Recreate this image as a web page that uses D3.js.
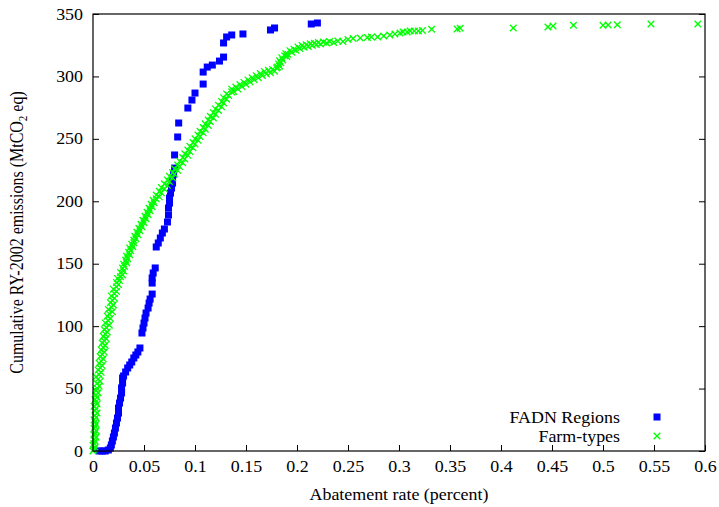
<!DOCTYPE html>
<html>
<head>
<meta charset="utf-8">
<script src="https://cdn.jsdelivr.net/npm/d3@7"></script>
<style>
  body { margin: 0; background: #fff; }
  svg text { font-family: "Liberation Serif", "DejaVu Serif", serif; fill: #000; }
</style>
</head>
<body>
<svg id="chart" width="719" height="507" font-family="Liberation Serif, serif"></svg>
<script>
// Cumulative emissions against abatement rate, two aggregation levels.

// FADN regions: abatement rate (fraction) and cumulative emissions (MtCO2 eq)
const fadnRate = [0.006, 0.009, 0.012, 0.015, 0.017, 0.018, 0.019, 0.020, 0.021, 0.022,
  0.023, 0.024, 0.025, 0.025, 0.026, 0.027, 0.028, 0.028, 0.029, 0.029,
  0.030, 0.032, 0.034, 0.036, 0.038, 0.040, 0.042, 0.044, 0.046, 0.048,
  0.049, 0.050, 0.051, 0.052, 0.054, 0.055, 0.056, 0.058, 0.058, 0.058,
  0.059, 0.061, 0.062, 0.064, 0.066, 0.068, 0.070, 0.073, 0.074, 0.074,
  0.075, 0.075, 0.076, 0.077, 0.078, 0.078, 0.079, 0.080, 0.080, 0.083,
  0.084, 0.093, 0.097, 0.100, 0.108, 0.108, 0.112, 0.117, 0.124, 0.128,
  0.128, 0.131, 0.136, 0.147, 0.174, 0.178, 0.214, 0.220];
const fadnCum = [0.0, 0.0, 0.0, 0.8, 2.4, 4.8, 8.0, 11.2, 14.4, 18.4,
  22.4, 26.4, 30.4, 34.4, 38.4, 42.4, 46.5, 50.5, 54.5, 58.5,
  60.1, 63.3, 66.5, 68.9, 71.3, 74.5, 76.9, 79.3, 82.5, 94.5,
  98.5, 102.5, 106.5, 110.5, 114.5, 118.5, 121.7, 125.7, 134.5, 138.6,
  142.6, 146.6, 163.4, 166.6, 170.6, 174.6, 177.8, 183.4, 189.0, 194.6,
  198.6, 202.6, 206.6, 210.6, 214.6, 218.6, 221.8, 226.6, 237.1, 251.5,
  262.7, 274.7, 281.1, 286.7, 293.9, 303.5, 307.5, 309.1, 312.3, 315.5,
  326.8, 331.6, 333.2, 334.0, 337.2, 338.8, 342.0, 342.8];

// Farm types: abatement rate (fraction) and cumulative emissions (MtCO2 eq)
const farmRate = [
  0.000, 0.001, 0.002, 0.000, 0.001, 0.002, 0.001, 0.003, 0.001, 0.002,
  0.003, 0.001, 0.002, 0.003, 0.002, 0.001, 0.003, 0.002, 0.004, 0.002,
  0.003, 0.001, 0.004, 0.003, 0.002, 0.004, 0.003, 0.005, 0.003, 0.004,
  0.006,
  0.004, 0.007, 0.005, 0.003, 0.006, 0.008, 0.005, 0.007, 0.009, 0.006,
  0.008, 0.010, 0.007, 0.009, 0.011, 0.008, 0.010, 0.012, 0.009, 0.011,
  0.013, 0.010, 0.012, 0.014, 0.011, 0.013, 0.016, 0.012, 0.015, 0.017,
  0.014, 0.016, 0.019, 0.015, 0.018, 0.020, 0.017, 0.019, 0.021, 0.018,
  0.021, 0.023, 0.020, 0.023, 0.025, 0.023,
  0.026, 0.024, 0.027, 0.029, 0.027, 0.030, 0.029, 0.031, 0.030, 0.033,
  0.032, 0.034, 0.033, 0.036, 0.035, 0.037, 0.036, 0.039, 0.038, 0.040,
  0.040, 0.042, 0.041, 0.044, 0.043, 0.046, 0.045, 0.048, 0.047, 0.050,
  0.049, 0.052, 0.051, 0.054, 0.053, 0.056, 0.055, 0.058, 0.057, 0.060,
  0.059, 0.062,
  0.065, 0.062, 0.067, 0.065, 0.070, 0.067, 0.073, 0.070, 0.075, 0.073,
  0.078, 0.075, 0.080, 0.078, 0.083, 0.080, 0.085, 0.083, 0.088, 0.085,
  0.090, 0.088, 0.093, 0.090, 0.095, 0.093, 0.098, 0.095, 0.100, 0.098,
  0.103, 0.100, 0.105, 0.103, 0.108, 0.105, 0.110, 0.108, 0.113, 0.110,
  0.115, 0.113, 0.118, 0.115, 0.120, 0.118, 0.123, 0.120, 0.126, 0.123,
  0.128, 0.126, 0.131, 0.128, 0.133, 0.131, 0.136,
  0.136, 0.138, 0.140, 0.142, 0.144, 0.146, 0.148, 0.150, 0.152, 0.154,
  0.156, 0.158, 0.160, 0.162, 0.164, 0.166, 0.168, 0.170, 0.172, 0.174,
  0.176, 0.178, 0.180, 0.181, 0.183, 0.182, 0.184, 0.183, 0.186, 0.185,
  0.188, 0.190, 0.189, 0.191, 0.193, 0.195, 0.197, 0.199, 0.201, 0.203,
  0.205, 0.207, 0.209, 0.211, 0.213, 0.215, 0.217, 0.219, 0.221, 0.223,
  0.226, 0.229, 0.232,
  0.236, 0.240, 0.245, 0.250, 0.255, 0.262, 0.269, 0.273, 0.279, 0.285,
  0.291, 0.296, 0.301, 0.304, 0.308, 0.311, 0.315, 0.319, 0.323, 0.332,
  0.357, 0.360, 0.412, 0.446, 0.451, 0.471, 0.500, 0.505, 0.514, 0.547,
  0.593];
const farmCum = [
  0.0, 1.5, 3.0, 4.5, 6.0, 7.8, 9.5, 11.0, 12.8, 14.5,
  16.2, 18.0, 19.8, 21.5, 23.2, 25.0, 26.8, 28.6, 30.4, 32.2,
  34.0, 35.8, 37.6, 39.4, 41.2, 43.0, 44.8, 46.6, 48.4, 50.2,
  52.0,
  54.0, 55.8, 57.6, 59.4, 61.2, 63.0, 64.8, 66.6, 68.4, 70.2,
  72.0, 73.8, 75.6, 77.4, 79.2, 81.0, 82.8, 84.6, 86.4, 88.2,
  90.0, 91.8, 93.6, 95.4, 97.2, 99.0, 100.8, 102.6, 104.4, 106.2,
  108.0, 109.8, 111.6, 113.4, 115.2, 117.0, 118.8, 120.6, 122.4, 124.2,
  126.0, 127.8, 129.6, 131.4, 133.2, 135.0,
  136.5, 138.2, 139.5, 141.0, 143.0, 144.2, 146.5, 147.8, 149.6, 150.8,
  152.8, 154.0, 156.0, 157.2, 159.2, 160.4, 162.5, 163.6, 165.6, 166.8,
  168.8, 170.0, 172.0, 173.2, 175.2, 176.4, 178.4, 179.6, 181.6, 182.8,
  184.8, 186.0, 188.0, 189.2, 191.2, 192.4, 194.4, 195.6, 197.6, 198.8,
  200.8, 202.0,
  203.6, 205.0, 206.8, 208.0, 209.8, 211.0, 212.8, 214.0, 215.8, 217.0,
  218.8, 220.0, 221.8, 223.0, 224.8, 226.0, 227.8, 229.0, 230.8, 232.0,
  233.8, 235.0, 236.8, 238.0, 239.8, 241.0, 242.8, 244.0, 245.8, 247.0,
  248.8, 250.0, 251.8, 253.0, 254.8, 256.0, 257.8, 259.0, 260.8, 262.0,
  263.8, 265.0, 266.8, 268.0, 269.8, 271.0, 272.8, 274.0, 275.8, 277.0,
  278.8, 280.0, 281.8, 283.0, 284.8, 286.0, 287.6,
  289.8, 288.0, 291.5, 290.0, 293.5, 292.0, 295.2, 293.8, 297.2, 295.6,
  298.9, 297.4, 300.6, 299.0, 302.3, 300.8, 304.0, 302.0, 304.9, 302.9,
  305.6, 304.2, 306.8, 307.5, 308.2, 310.0, 311.0, 312.5, 313.2, 315.0,
  316.5, 316.0, 318.2, 317.8, 320.6, 319.4, 321.8, 320.9, 323.5, 322.3,
  324.8, 323.4, 325.3, 324.0, 326.2, 324.9, 326.6, 325.5, 327.2, 326.0,
  327.6, 326.8, 328.0,
  327.2, 328.4, 328.0, 329.6, 330.4, 330.8, 331.2, 331.6, 331.6, 332.4,
  333.2, 334.0, 334.8, 335.6, 335.6, 336.4, 336.4, 336.4, 336.8, 337.8,
  338.0, 338.6, 338.8, 339.6, 340.4, 341.0, 341.0, 341.2, 341.4, 342.0,
  342.0];

const xTicks = [0, 0.05, 0.1, 0.15, 0.2, 0.25, 0.3, 0.35, 0.4, 0.45, 0.5, 0.55, 0.6];
const yTicks = [0, 50, 100, 150, 200, 250, 300, 350];
const seriesNames = ["FADN Regions", "Farm-types"];
const seriesColors = ["#0000ff", "#00ff00"];
const xTitle = "Abatement rate (percent)";

// Layout
const plot = { left: 93, right: 705, top: 14, bottom: 451 };
const stretch = 1.12;     // horizontal glyph widening of all text
const fontPx = 16;
const serif = "Liberation Serif, serif";

const svg = d3.select("#chart");
const x = d3.scaleLinear().domain([0, 0.6]).range([plot.left, plot.right]);
const y = d3.scaleLinear().domain([0, 350]).range([plot.bottom, plot.top]);

// Axes with inward ticks
const xAxis = d3.axisBottom(x).tickValues(xTicks).tickFormat(d => String(d))
  .tickSizeInner(-6).tickSizeOuter(0).tickPadding(10);
const yAxis = d3.axisLeft(y).tickValues(yTicks).tickFormat(d => String(d))
  .tickSizeInner(-6).tickSizeOuter(0).tickPadding(10);
const yAxisRight = d3.axisRight(y).tickValues(yTicks).tickFormat("")
  .tickSizeInner(-6).tickSizeOuter(0);

const gx = svg.append("g").attr("transform", `translate(0,${plot.bottom})`).call(xAxis);
const gy = svg.append("g").attr("transform", `translate(${plot.left},0)`).call(yAxis);
const gyr = svg.append("g").attr("transform", `translate(${plot.right},0)`).call(yAxisRight);
[gx, gy, gyr].forEach(g => {
  g.attr("font-family", serif).attr("font-size", fontPx);
  g.select(".domain").remove();
  g.selectAll(".tick line").attr("stroke", "#000").attr("stroke-width", 1);
  g.selectAll("text").attr("font-size", fontPx).attr("font-family", serif).attr("fill", "#000");
});
gx.selectAll(".tick text").attr("transform", `scale(${stretch},1)`);
gy.selectAll(".tick text").each(function () {
  const t = d3.select(this);
  t.attr("x", +t.attr("x") / stretch).attr("transform", `scale(${stretch},1)`);
});

// Data marks
const fadn = fadnRate.map((r, i) => ({ r, c: fadnCum[i] }));
const farm = farmRate.map((r, i) => ({ r, c: farmCum[i] }));
const sq = 7, cr = 3.3;

const marks = svg.append("g");
marks.selectAll("rect.fadn").data(fadn).join("rect")
  .attr("class", "fadn")
  .attr("x", d => x(d.r) - sq / 2).attr("y", d => y(d.c) - sq / 2)
  .attr("width", sq).attr("height", sq)
  .attr("fill", seriesColors[0]);

const crossPath = (cx, cy) => `M${cx - cr},${cy - cr}L${cx + cr},${cy + cr}M${cx - cr},${cy + cr}L${cx + cr},${cy - cr}`;
marks.selectAll("path.farm").data(farm).join("path")
  .attr("class", "farm")
  .attr("d", d => crossPath(x(d.r), y(d.c)))
  .attr("stroke", seriesColors[1]).attr("stroke-width", 1.3).attr("fill", "none");

// Frame
svg.append("rect")
  .attr("x", plot.left).attr("y", plot.top)
  .attr("width", plot.right - plot.left).attr("height", plot.bottom - plot.top)
  .attr("fill", "none").attr("stroke", "#000").attr("stroke-width", 1.2);

// Legend
const legend = svg.append("g").attr("font-family", serif);
const legendRows = [
  { name: seriesNames[0], color: seriesColors[0], ty: 423, my: 417 },
  { name: seriesNames[1], color: seriesColors[1], ty: 442, my: 436 }
];
legendRows.forEach((row, i) => {
  legend.append("g").attr("transform", `translate(620,${row.ty})`)
    .append("text").attr("text-anchor", "end").attr("font-size", fontPx)
    .attr("transform", `scale(${stretch},1)`).text(row.name);
  if (i === 0) {
    legend.append("rect").attr("x", 657 - sq / 2).attr("y", row.my - sq / 2)
      .attr("width", sq).attr("height", sq).attr("fill", row.color);
  } else {
    legend.append("path").attr("d", crossPath(657, row.my))
      .attr("stroke", row.color).attr("stroke-width", 1.3).attr("fill", "none");
  }
});

// Axis titles
svg.append("g").attr("transform", `translate(${(plot.left + plot.right) / 2},500)`)
  .append("text").attr("text-anchor", "middle").attr("font-size", fontPx)
  .attr("font-family", serif)
  .attr("transform", `scale(${stretch},1)`).text(xTitle);

const yTitle = svg.append("g")
  .attr("transform", `translate(23,${(plot.top + plot.bottom) / 2}) scale(${stretch},1) rotate(-90)`)
  .append("text").attr("text-anchor", "middle").attr("font-size", fontPx)
  .attr("font-family", serif);
yTitle.append("tspan").text("Cumulative RY-2002 emissions (MtCO");
yTitle.append("tspan").attr("font-size", 11).attr("dy", 4).text("2");
yTitle.append("tspan").attr("dy", -4).text(" eq)");
</script>
</body>
</html>
